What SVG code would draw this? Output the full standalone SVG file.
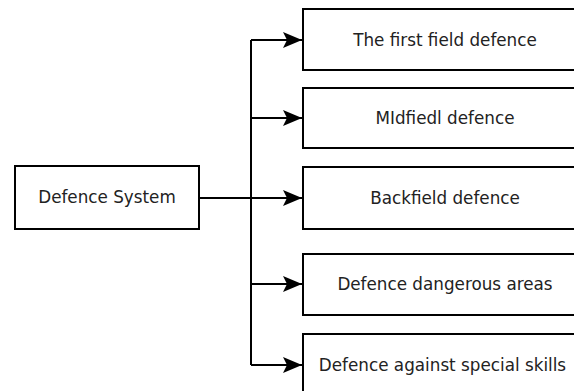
<svg xmlns="http://www.w3.org/2000/svg" width="574" height="391" viewBox="0 0 574 391">
<style>
rect.box{fill:#fff;stroke:#000;stroke-width:2}
text{font-family:"DejaVu Sans",sans-serif;font-size:16.8px;fill:#222;text-anchor:middle}
.conn{fill:none;stroke:#000;stroke-width:2}
</style>
<defs>
<marker id="arr" markerUnits="userSpaceOnUse" markerWidth="20" markerHeight="18" refX="19" refY="9" orient="auto" viewBox="0 0 20 18">
<path d="M0,1 L19,9 L0,17 L4,9 Z" fill="#000"/>
</marker>
</defs>
<rect width="574" height="391" fill="#fff"/>
<g id="connectors">
<path class="conn" d="M199,198 H251"/>
<path class="conn" d="M251,40 V365"/>
<path class="conn" d="M251,40 H302" marker-end="url(#arr)"/>
<path class="conn" d="M251,118 H302" marker-end="url(#arr)"/>
<path class="conn" d="M251,198 H302" marker-end="url(#arr)"/>
<path class="conn" d="M251,284 H302" marker-end="url(#arr)"/>
<path class="conn" d="M251,365 H302" marker-end="url(#arr)"/>
</g>
<g id="root">
<rect class="box" x="15" y="166" width="184" height="63"/>
<text x="107" y="203">Defence System</text>
</g>
<g id="n1">
<rect class="box" x="303" y="9" width="284" height="61"/>
<text x="445" y="46">The first field defence</text>
</g>
<g id="n2">
<rect class="box" x="303" y="88" width="284" height="60"/>
<text x="445" y="124">MIdfiedl defence</text>
</g>
<g id="n3">
<rect class="box" x="303" y="167" width="284" height="62"/>
<text x="445" y="204">Backfield defence</text>
</g>
<g id="n4">
<rect class="box" x="303" y="254" width="284" height="61"/>
<text x="445" y="290">Defence dangerous areas</text>
</g>
<g id="n5">
<rect class="box" x="303" y="334" width="284" height="62"/>
<text x="442.5" y="371">Defence against special skills</text>
</g>
</svg>
